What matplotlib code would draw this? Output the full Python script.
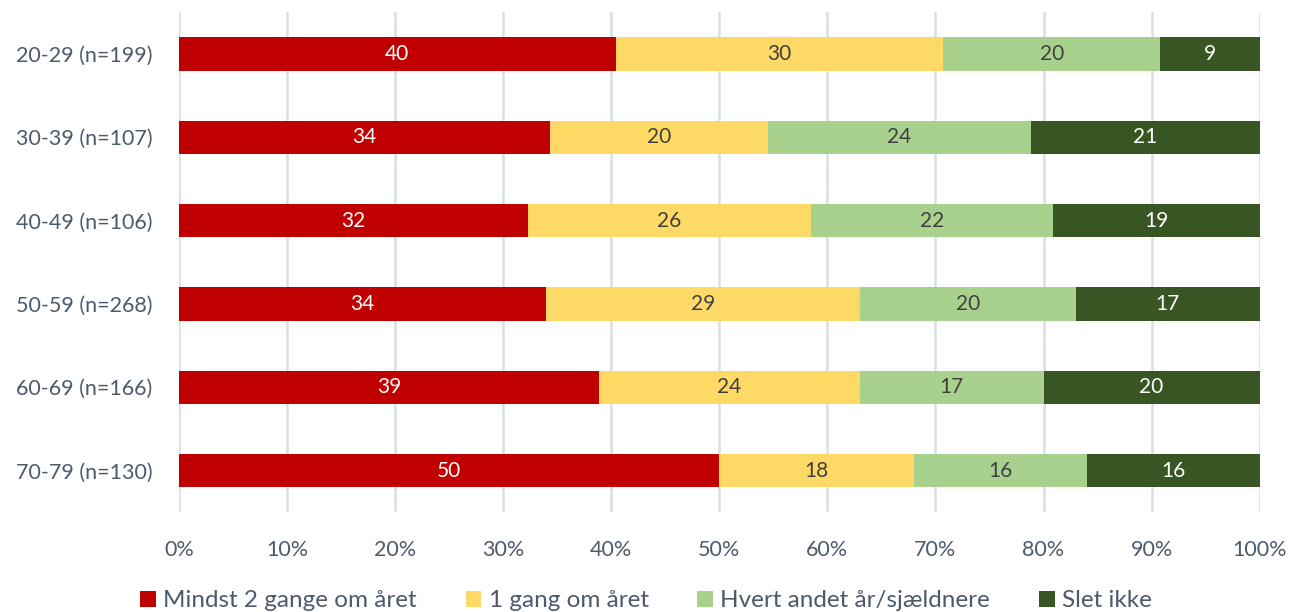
import numpy as np
import matplotlib.pyplot as plt
from matplotlib.patches import Patch

plt.rcParams['font.family'] = ['Lato', 'DejaVu Sans']

# ---------------- data ----------------
groups = ['20-29 (n=199)', '30-39 (n=107)', '40-49 (n=106)',
          '50-59 (n=268)', '60-69 (n=166)', '70-79 (n=130)']
series = ['Mindst 2 gange om året', '1 gang om året',
          'Hvert andet år/sjældnere', 'Slet ikke']
mindst2 = [40.4, 34.3, 32.3, 34.0, 38.9, 50.0]
gang1 = [30.3, 20.2, 26.2, 29.0, 24.1, 18.0]
hvert_andet = [20.1, 24.3, 22.4, 20.0, 17.0, 16.0]
slet_ikke = [9.2, 21.2, 19.1, 17.0, 20.0, 16.0]
xticks = [0, 10, 20, 30, 40, 50, 60, 70, 80, 90, 100]

colors = ['#C00000', '#FFD966', '#A9D18E', '#375623']
txt_colors = ['white', '#404040', '#404040', 'white']
tick_col = '#4D5A6B'

fig = plt.figure(figsize=(12.92, 6.12), dpi=100)
ax = fig.add_axes([0.1385, 0.163, 0.8365, 0.817])

y = np.arange(len(groups))
left = np.zeros(len(groups))
for vals, c, tc in zip([mindst2, gang1, hvert_andet, slet_ikke], colors, txt_colors):
    vals = np.array(vals)
    ax.barh(y, vals, left=left, height=0.4, color=c, zorder=3)
    for yi, l, v in zip(y, left, vals):
        ax.text(l + v / 2, yi, '{:.0f}'.format(v), ha='center', va='center',
                color=tc, fontsize=15, zorder=4)
    left += vals

ax.set_xlim(0, 100)
ax.set_ylim(len(groups) - 0.5, -0.5)
ax.set_yticks(y)
ax.set_yticklabels(groups)
ax.set_xticks(xticks)
ax.set_xticklabels(['{}%'.format(t) for t in xticks])
ax.tick_params(axis='both', length=0, labelsize=15.5, labelcolor=tick_col)
ax.tick_params(axis='x', pad=20)
ax.tick_params(axis='y', pad=19)
ax.grid(axis='x', color='#D9DEE8', linewidth=1.8, zorder=0)
for s in ax.spines.values():
    s.set_visible(False)

handles = [Patch(facecolor=c) for c in colors]
fig.legend(handles, series, loc='center', bbox_to_anchor=(0.5, 0.018), ncol=4,
           frameon=False, fontsize=17.5, handlelength=0.65, handleheight=0.65,
           handletextpad=0.3, columnspacing=2.0, labelcolor=tick_col)

fig.savefig('out.png', dpi=100)
